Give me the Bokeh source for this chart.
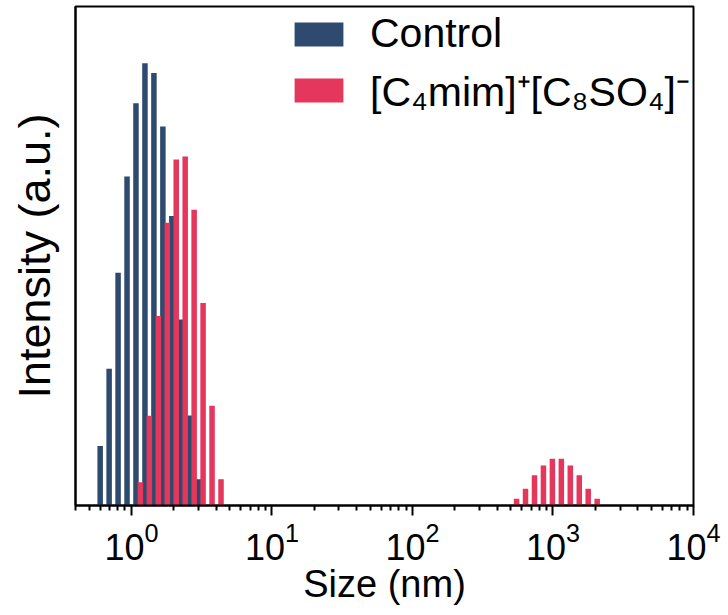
from bokeh.plotting import figure
from bokeh.models import Range1d, Legend, LegendItem, FixedTicker
from bokeh.embed import file_html
from bokeh.resources import INLINE

# ---- data ----
size_control = [0.6213, 0.7195, 0.8332, 0.9649, 1.117, 1.294, 1.499, 1.736,
                2.010, 2.328, 2.696, 3.122]
intensity_control = [2.38, 5.48, 9.33, 13.19, 16.12, 17.73, 17.33, 15.19,
                     11.60, 7.45, 3.61, 1.05]

size_il = [1.117, 1.294, 1.499, 1.736, 2.010, 2.328, 2.696, 3.122, 3.615, 4.187,
           531.2, 615.1, 712.4, 825.0, 955.4, 1106, 1281, 1484, 1718, 1990]
intensity_il = [0.93, 3.60, 7.60, 11.33, 13.87, 13.99, 11.85, 8.12, 4.00, 1.05,
                0.27, 0.67, 1.21, 1.60, 1.87, 1.87, 1.60, 1.21, 0.67, 0.27]

major_ticks = [1, 10, 100, 1000, 10000]
series_labels = ["Control", "[C\u2084mim]\u207a[C\u2088SO\u2084]\u207b"]

# ---- style ----
FONT = "Liberation Sans"
BLUE = "#2E4A6E"
RED = "#E5365C"
DECADE_PX = 140.5
SHIFT = 10 ** (2.2 / DECADE_PX)      # grouped-column offset (log space)
HALF_W = 10 ** (2.75 / DECADE_PX)    # half bar width (log space)


def edges(sizes, shift):
    centers = [s * shift for s in sizes]
    return [c / HALF_W for c in centers], [c * HALF_W for c in centers]


p = figure(width=728, height=615, x_axis_type="log",
           x_range=Range1d(0.4, 10000), y_range=Range1d(0, 20),
           output_backend="svg", toolbar_location=None,
           min_border_left=75, min_border_right=35,
           min_border_top=6, min_border_bottom=110)

lc, rc = edges(size_control, 1 / SHIFT)
r_ctrl = p.quad(left=lc, right=rc, top=intensity_control, bottom=0,
                fill_color=BLUE, line_color=None)
li, ri = edges(size_il, SHIFT)
r_il = p.quad(left=li, right=ri, top=intensity_il, bottom=0,
              fill_color=RED, line_color=None)

p.xgrid.visible = False
p.ygrid.visible = False
p.outline_line_color = "black"
p.outline_line_width = 2
p.background_fill_color = "white"
p.border_fill_color = "white"

minor = [m * 10 ** k for k in range(-1, 4) for m in range(2, 10) if 0.4 <= m * 10 ** k <= 10000]
xa = p.xaxis[0]
xa.ticker = FixedTicker(ticks=major_ticks, minor_ticks=minor)
xa.axis_line_width = 2
xa.major_tick_line_width = 2
xa.minor_tick_line_width = 2
xa.major_tick_out = 10
xa.major_tick_in = 0
xa.minor_tick_out = 5
xa.minor_tick_in = 0
xa.major_label_text_font = FONT
xa.major_label_text_font_size = "36px"
xa.major_label_text_color = "black"
xa.major_label_standoff = 6
xa.axis_label = "Size (nm)"
xa.axis_label_text_font = FONT
xa.axis_label_text_font_size = "38px"
xa.axis_label_text_font_style = "normal"
xa.axis_label_text_color = "black"
xa.axis_label_standoff = 0

ya = p.yaxis[0]
ya.ticker = FixedTicker(ticks=[])
ya.axis_line_width = 2
ya.major_tick_line_color = None
ya.minor_tick_line_color = None
ya.axis_label = "Intensity (a.u.)"
ya.axis_label_text_font = FONT
ya.axis_label_text_font_size = "45px"
ya.axis_label_text_font_style = "normal"
ya.axis_label_text_color = "black"
ya.axis_label_standoff = 16

legend = Legend(items=[LegendItem(label=series_labels[0], renderers=[r_ctrl]),
                       LegendItem(label=series_labels[1], renderers=[r_il])],
                location=(213, 387), orientation="vertical",
                glyph_width=61, glyph_height=30, label_standoff=21,
                label_text_font=FONT, label_text_font_size="41px",
                label_text_color="black", spacing=5, padding=0, margin=0,
                border_line_color=None, background_fill_alpha=0)
p.add_layout(legend, "center")

open("out.html", "w").write(file_html(p, INLINE))
